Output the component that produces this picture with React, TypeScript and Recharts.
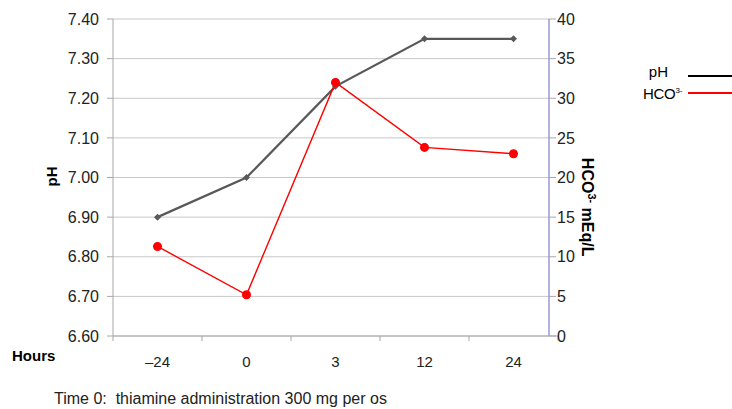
import React from 'react'
import { LineChart, Line, XAxis, YAxis, CartesianGrid } from 'recharts';

const hours = ['–24', '0', '3', '12', '24'];
const phValues = [6.9, 7.0, 7.23, 7.35, 7.35];
const hco3Values = [11.3, 5.2, 32.0, 23.8, 23.0];
const phTicks = [6.6, 6.7, 6.8, 6.9, 7.0, 7.1, 7.2, 7.3, 7.4];
const hco3Ticks = [0, 5, 10, 15, 20, 25, 30, 35, 40];

const data = hours.map((h, i) => ({ hour: h, ph: phValues[i], hco3: hco3Values[i] }));

// minor ticks every 0.02 on the pH axis
const minorTicks = Array.from({ length: 41 }, (_, i) => Math.round((6.6 + i * 0.02) * 100) / 100);

const font = 'Arial, "Liberation Sans", sans-serif';
const axisGray = '#a8a8a8';

const Diamond = (props: any) => {
    const { cx, cy } = props;
    if (cx == null || cy == null) return null;
    return <polygon points={`${cx},${cy - 3.5} ${cx + 3.5},${cy} ${cx},${cy + 3.5} ${cx - 3.5},${cy}`} fill="#595959" />;
};

// category label with tick marks at the band edges, plus the axis line under the band
const HourTick = (props: any) => {
    const { x, y, payload, index, visibleTicksCount } = props;
    const half = payload && payload.offset ? payload.offset : 44.5;
    const last = index === visibleTicksCount - 1;
    return (
        <g>
            <line x1={x - half} x2={x + half} y1={y} y2={y} stroke={axisGray} />
            <line x1={x - half} x2={x - half} y1={y} y2={y + 5} stroke={axisGray} />
            {last && <line x1={x + half} x2={x + half} y1={y} y2={y + 5} stroke={axisGray} />}
            <text x={x} y={y + 31} textAnchor="middle" fill="#222" fontSize={15} fontFamily={font}>{payload.value}</text>
        </g>
    );
};

const App = () => {
    return (
        <div style={{ position: 'absolute', left: 0, top: 0, width: 732, height: 409, fontFamily: font, background: '#fff' }}>
            <LineChart width={732} height={409} data={data} margin={{ top: 19, right: 0, bottom: 0, left: 0 }}>
                <CartesianGrid yAxisId="ph" xAxisId="cat" vertical={false} stroke="#c8c8c8" />
                <XAxis xAxisId="cat" dataKey="hour" scale="band" height={73} padding={{ left: 0, right: -9 }}
                    axisLine={false} tickLine={false} tickSize={0} tickMargin={0} tick={<HourTick />} interval={0} />
                <YAxis yAxisId="ph" domain={[6.6, 7.4]} ticks={phTicks} width={113} tickSize={6} tickMargin={8}
                    tickFormatter={(v: number) => v.toFixed(2)} stroke={axisGray}
                    tick={{ fill: '#222', fontSize: 16, fontFamily: font }} />
                <YAxis yAxisId="minor" domain={[6.6, 7.4]} ticks={minorTicks} mirror tickFormatter={() => ''}
                    axisLine={false} tickSize={4} stroke={axisGray} />
                <YAxis yAxisId="hco3" orientation="right" domain={[0, 40]} ticks={hco3Ticks} width={183}
                    axisLine={{ stroke: '#8080c8', strokeWidth: 1.2 }} tickLine={{ stroke: axisGray }} tickSize={7} tickMargin={1}
                    tick={{ fill: '#222', fontSize: 16, fontFamily: font, textAnchor: 'start' }} />
                <Line xAxisId="cat" yAxisId="ph" dataKey="ph" stroke="#595959" strokeWidth={2.2}
                    dot={<Diamond />} isAnimationActive={false} />
                <Line xAxisId="cat" yAxisId="hco3" dataKey="hco3" stroke="#ff0000" strokeWidth={1.4}
                    dot={{ r: 3.8, fill: '#ff0000', stroke: '#ff0000' }} isAnimationActive={false} />
            </LineChart>

            <div style={{ position: 'absolute', left: 36, top: 168, width: 30, textAlign: 'center', transform: 'rotate(-90deg)', fontWeight: 'bold', fontSize: 15 }}>pH</div>
            <div style={{ position: 'absolute', left: 523, top: 197, width: 130, textAlign: 'center', transform: 'rotate(90deg)', fontWeight: 'bold', fontSize: 16, whiteSpace: 'nowrap' }}>
                HCO<sup style={{ fontSize: 11 }}>3-</sup> mEq/L
            </div>
            <div style={{ position: 'absolute', left: 12, top: 347, fontWeight: 'bold', fontSize: 15 }}>Hours</div>
            <div style={{ position: 'absolute', left: 54, top: 390, fontSize: 16, color: '#222' }}>Time 0:&nbsp; thiamine administration 300 mg per os</div>

            <div style={{ position: 'absolute', left: 620, top: 63, width: 48, textAlign: 'right', fontSize: 15 }}>pH</div>
            <div style={{ position: 'absolute', left: 688, top: 75, width: 44, height: 2, background: '#000' }} />
            <div style={{ position: 'absolute', left: 626, top: 85, width: 56, textAlign: 'right', fontSize: 15, letterSpacing: -0.3, whiteSpace: 'nowrap' }}>
                HCO<sup style={{ fontSize: 8 }}>3-</sup>
            </div>
            <div style={{ position: 'absolute', left: 688, top: 92, width: 44, height: 2, background: '#ff0000' }} />
        </div>
    )
}

export default App
